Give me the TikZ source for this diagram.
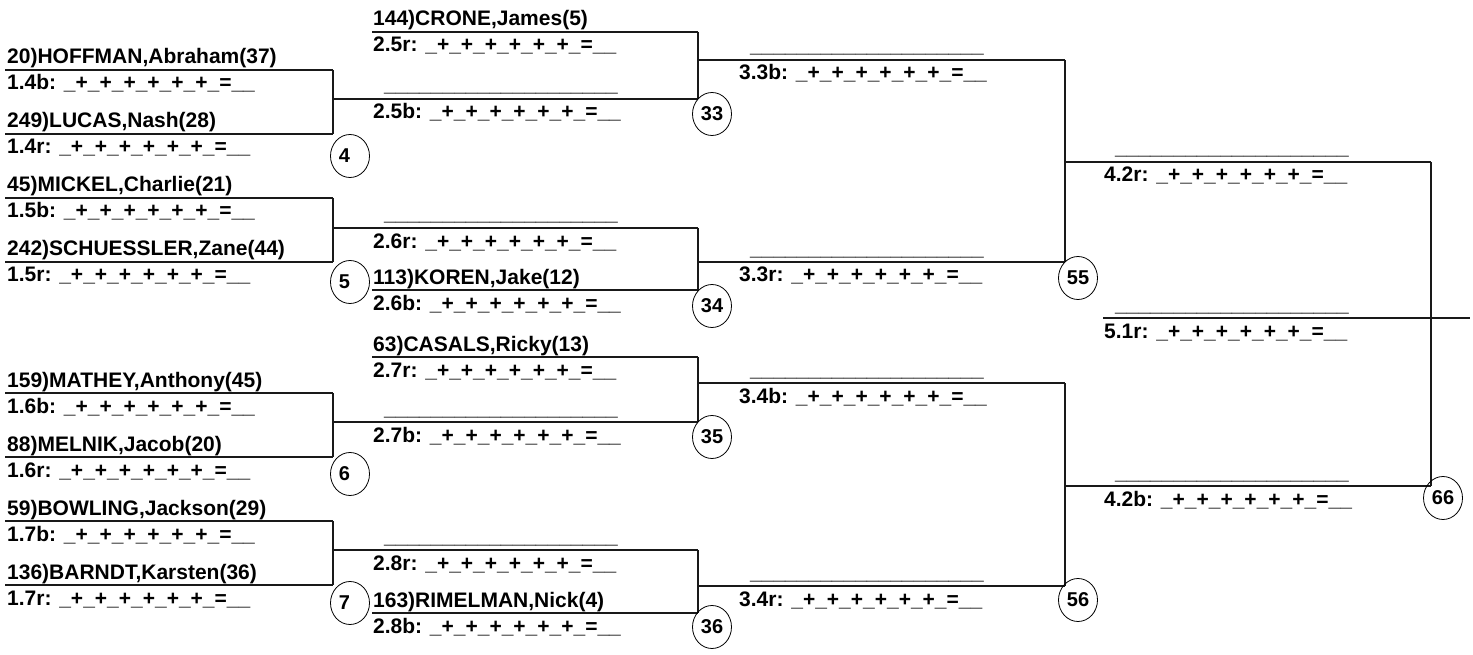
\documentclass[tikz,border=0pt]{standalone}
\usepackage{fontspec}
\setmainfont{Liberation Sans}
\usetikzlibrary{shapes.geometric}
\newcommand\scoreblanks{\_+\_+\_+\_+\_+\_+\_=\_\_}
\newcommand\longblank{\_\_\_\_\_\_\_\_\_\_\_\_\_\_\_\_\_\_\_\_}
% slot line: name, x-left, x-right, y
\newcommand\bracketline[4]{\coordinate (#1w) at (#2,#4); \coordinate (#1e) at (#3,#4); \draw[wire] (#1w) -- (#1e);}
% filled entry: name, text x, line y, name text, result label
\newcommand\entrytext[5]{\node[entry] (#1n) at (#2,#3-6) {#4}; \node[entry] (#1s) at (#2,#3+20) {#5: \scoreblanks};}
% empty entry: name, text x, line y, result label
\newcommand\blanktext[4]{\node[entry] (#1n) at (#2+11,#3-7) {\longblank}; \node[entry] (#1s) at (#2,#3+20) {#4: \scoreblanks};}
\begin{document}
\begin{tikzpicture}[x=1pt,y=-1pt,
  entry/.style={anchor=base west, inner sep=0pt, font=\fontsize{21}{25}\selectfont\bfseries},
  wire/.style={line width=1.1pt, draw=black!90},
  seed/.style={draw, ellipse, line width=0.8pt, minimum width=39pt, minimum height=43pt, inner sep=0pt,
    font=\fontsize{20}{24}\selectfont\bfseries}]
\useasboundingbox (0,0) rectangle (1473,655);

% ---------- Round 1 ----------
\bracketline{r1a}{5}{333}{70}
\bracketline{r1b}{5}{333}{134}
\bracketline{r1c}{5}{333}{198}
\bracketline{r1d}{5}{333}{262}
\bracketline{r1e}{5}{333}{393}
\bracketline{r1f}{5}{333}{457}
\bracketline{r1g}{5}{333}{521}
\bracketline{r1h}{5}{333}{585}
\entrytext{r1a}{7}{70}{20)HOFFMAN,Abraham(37)}{1.4b}
\entrytext{r1b}{7}{134}{249)LUCAS,Nash(28)}{1.4r}
\entrytext{r1c}{7}{198}{45)MICKEL,Charlie(21)}{1.5b}
\entrytext{r1d}{7}{262}{242)SCHUESSLER,Zane(44)}{1.5r}
\entrytext{r1e}{7}{393}{159)MATHEY,Anthony(45)}{1.6b}
\entrytext{r1f}{7}{457}{88)MELNIK,Jacob(20)}{1.6r}
\entrytext{r1g}{7}{521}{59)BOWLING,Jackson(29)}{1.7b}
\entrytext{r1h}{7}{585}{136)BARNDT,Karsten(36)}{1.7r}
\draw[wire] (r1ae) -- (r1be);
\draw[wire] (r1ce) -- (r1de);
\draw[wire] (r1ee) -- (r1fe);
\draw[wire] (r1ge) -- (r1he);

% ---------- Round 2 ----------
\bracketline{r2a}{372}{698}{32}
\bracketline{r2b}{333}{698}{99}
\bracketline{r2c}{333}{698}{228}
\bracketline{r2d}{372}{698}{290}
\bracketline{r2e}{372}{698}{357}
\bracketline{r2f}{333}{698}{422}
\bracketline{r2g}{333}{698}{550}
\bracketline{r2h}{372}{698}{613}
\entrytext{r2a}{373}{32}{144)CRONE,James(5)}{2.5r}
\blanktext{r2b}{373}{99}{2.5b}
\blanktext{r2c}{373}{228}{2.6r}
\entrytext{r2d}{373}{290}{113)KOREN,Jake(12)}{2.6b}
\entrytext{r2e}{373}{357}{63)CASALS,Ricky(13)}{2.7r}
\blanktext{r2f}{373}{422}{2.7b}
\blanktext{r2g}{373}{550}{2.8r}
\entrytext{r2h}{373}{613}{163)RIMELMAN,Nick(4)}{2.8b}
\draw[wire] (r2ae) -- (r2be);
\draw[wire] (r2ce) -- (r2de);
\draw[wire] (r2ee) -- (r2fe);
\draw[wire] (r2ge) -- (r2he);

% ---------- Round 3 ----------
\bracketline{r3a}{698}{1065}{60}
\bracketline{r3b}{698}{1065}{262}
\bracketline{r3c}{698}{1065}{383}
\bracketline{r3d}{698}{1065}{586}
\blanktext{r3a}{739}{60}{3.3b}
\blanktext{r3b}{739}{262}{3.3r}
\blanktext{r3c}{739}{383}{3.4b}
\blanktext{r3d}{739}{586}{3.4r}
\draw[wire] (r3ae) -- (r3be);
\draw[wire] (r3ce) -- (r3de);

% ---------- Round 4 and final ----------
\bracketline{r4a}{1065}{1431}{162}
\bracketline{r4b}{1065}{1431}{486}
\blanktext{r4a}{1104}{162}{4.2r}
\blanktext{r4b}{1104}{486}{4.2b}
\draw[wire] (r4ae) -- (r4be);
\bracketline{r5a}{1103}{1470}{318}
\blanktext{r5a}{1104}{318}{5.1r}

% ---------- bout numbers ----------
\node[seed] (c4)  at (350,156) {4\hphantom{0}};
\node[seed] (c5)  at (350,282) {5\hphantom{0}};
\node[seed] (c6)  at (350,474) {6\hphantom{0}};
\node[seed] (c7)  at (350,603) {7\hphantom{0}};
\node[seed] (c33) at (712,114) {33};
\node[seed] (c34) at (712,306) {34};
\node[seed] (c35) at (712,437) {35};
\node[seed] (c36) at (712,627) {36};
\node[seed] (c55) at (1078,278) {55};
\node[seed] (c56) at (1078,600) {56};
\node[seed] (c66) at (1443,498) {66};
\end{tikzpicture}
\end{document}
